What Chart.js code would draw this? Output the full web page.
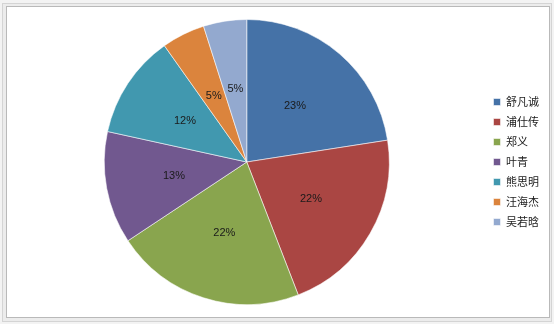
<!DOCTYPE html>
<html lang="zh">
<head>
    <meta charset="UTF-8">
    <title>Pie</title>
    <script src="https://cdn.jsdelivr.net/npm/chart.js"></script>
    <style>
        html, body {
            margin: 0;
            padding: 0;
            width: 554px;
            height: 324px;
            overflow: hidden;
            background: #f3f3f3;
        }
        .frame {
            position: absolute;
            left: 2px;
            top: 3px;
            width: 548px;
            height: 317px;
            border: 1px solid #d4d4d4;
            background: #ececec;
        }
        .box {
            position: absolute;
            left: 6px;
            top: 6px;
            width: 542px;
            height: 310px;
            background: #ffffff;
            border: 1px solid #b9b9b9;
        }
        #chart {
            position: absolute;
            left: 0;
            top: 0;
        }
    </style>
</head>
<body>
    <div class="frame"></div>
    <div class="box">
        <canvas id="chart" width="542" height="310"></canvas>
    </div>

    <script>
        const names = ['舒凡诚', '浦仕传', '郑义', '叶青', '熊思明', '汪海杰', '吴若晗'];
        const values = [23, 22, 22, 13, 12, 5, 5];
        const colors = ['#4572A7', '#AA4643', '#89A54E', '#71588F', '#4198AF', '#DB843D', '#93A9CF'];

        const total = values.reduce((a, b) => a + b, 0);

        // percentage labels inside each slice
        const sliceLabels = {
            id: 'sliceLabels',
            afterDatasetsDraw(chart) {
                const ctx = chart.ctx;
                const arcs = chart.getDatasetMeta(0).data;
                ctx.save();
                ctx.font = '11px "Liberation Sans", Arial, sans-serif';
                ctx.fillStyle = '#1a1a1a';
                ctx.textAlign = 'center';
                ctx.textBaseline = 'middle';
                arcs.forEach((arc, i) => {
                    const p = arc.getProps(['x', 'y', 'startAngle', 'endAngle', 'outerRadius'], true);
                    const mid = (p.startAngle + p.endAngle) / 2;
                    const r = p.outerRadius * 0.52;
                    const pct = Math.round(values[i] / total * 100) + '%';
                    ctx.fillText(pct, p.x + Math.cos(mid) * r, p.y + Math.sin(mid) * r);
                });
                ctx.restore();
            }
        };

        new Chart(document.getElementById('chart'), {
            type: 'pie',
            data: {
                labels: names,
                datasets: [{
                    data: values,
                    backgroundColor: colors,
                    borderColor: 'rgba(255,255,255,0.55)',
                    borderWidth: 1
                }]
            },
            options: {
                responsive: false,
                animation: false,
                layout: { padding: { left: 2, right: 0, top: 12, bottom: 12 } },
                plugins: {
                    legend: {
                        position: 'right',
                        labels: {
                            boxWidth: 7,
                            boxHeight: 7,
                            padding: 9,
                            color: '#1a1a1a',
                            font: { size: 11, family: '"Noto Sans CJK SC", sans-serif' }
                        }
                    },
                    tooltip: { enabled: false }
                }
            },
            plugins: [sliceLabels]
        });
    </script>
</body>
</html>
